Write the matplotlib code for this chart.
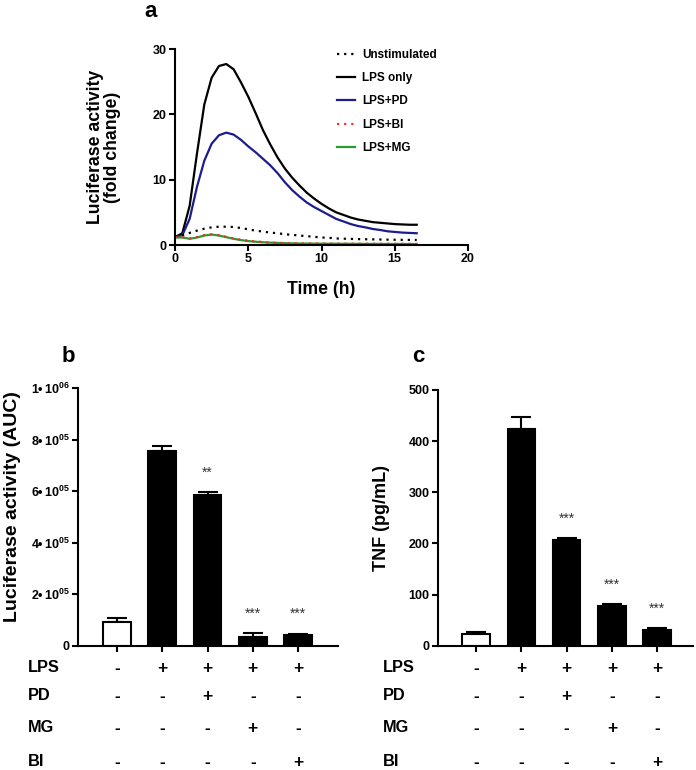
import numpy as np
import matplotlib
matplotlib.use("Agg")
import matplotlib.pyplot as plt
from matplotlib.transforms import blended_transform_factory

plt.rcParams["font.family"] = ["Liberation Sans", "DejaVu Sans"]
plt.rcParams["font.weight"] = "bold"
plt.rcParams["axes.linewidth"] = 1.5
plt.rcParams["mathtext.fontset"] = "custom"
plt.rcParams["mathtext.rm"] = "Liberation Sans"
plt.rcParams["mathtext.bf"] = "Liberation Sans:bold"

# ---- panel a: kinetics ----
time_h = [0, 0.5, 1, 1.5, 2, 2.5, 3, 3.5, 4, 4.5, 5, 5.5, 6, 6.5, 7, 7.5, 8, 8.5,
          9, 9.5, 10, 10.5, 11, 11.5, 12, 12.5, 13, 13.5, 14, 14.5, 15, 15.5, 16, 16.5]
lps_only = [1.2, 1.8, 6.0, 14.0, 21.5, 25.6, 27.4, 27.7, 26.9, 24.9, 22.7, 20.2, 17.6,
            15.4, 13.4, 11.7, 10.3, 9.1, 8.0, 7.1, 6.3, 5.6, 5.0, 4.6, 4.2, 3.9, 3.7,
            3.5, 3.4, 3.3, 3.2, 3.15, 3.1, 3.1]
lps_pd = [1.2, 1.5, 4.0, 8.9, 12.9, 15.5, 16.8, 17.2, 16.9, 16.1, 15.1, 14.2, 13.2,
          12.2, 11.0, 9.6, 8.4, 7.4, 6.5, 5.8, 5.2, 4.6, 4.0, 3.6, 3.2, 2.9, 2.7,
          2.45, 2.3, 2.1, 2.0, 1.9, 1.85, 1.8]
unstim = [1.3, 1.5, 1.85, 2.2, 2.5, 2.7, 2.8, 2.8, 2.75, 2.6, 2.4, 2.2, 2.05, 1.9, 1.8,
          1.65, 1.55, 1.45, 1.35, 1.25, 1.15, 1.1, 1.0, 0.97, 0.93, 0.9, 0.88, 0.86,
          0.84, 0.82, 0.8, 0.79, 0.78, 0.77]
lps_mg = [1.15, 1.15, 0.95, 1.15, 1.45, 1.6, 1.45, 1.2, 0.95, 0.75, 0.6, 0.5, 0.42,
          0.36, 0.32, 0.28, 0.25, 0.23, 0.22, 0.21, 0.2, 0.2, 0.19, 0.19, 0.18, 0.18,
          0.17, 0.17, 0.17, 0.16, 0.16, 0.16, 0.15, 0.15]
lps_bi = [1.2, 1.2, 1.0, 1.2, 1.5, 1.62, 1.5, 1.25, 1.0, 0.8, 0.65, 0.55, 0.45, 0.38,
          0.33, 0.3, 0.27, 0.25, 0.24, 0.23, 0.22, 0.21, 0.21, 0.2, 0.2, 0.19, 0.19,
          0.19, 0.18, 0.18, 0.18, 0.18, 0.18, 0.18]

# ---- panels b and c: bars ----
auc_mean = [93000, 758000, 585000, 35000, 41000]
auc_err = [13000, 18000, 11000, 13000, 5600]
auc_stars = ["", "", "**", "***", "***"]
tnf_mean = [22, 424, 207, 78, 30]
tnf_err = [4.7, 24, 3, 4, 4]
tnf_stars = ["", "", "***", "***", "***"]

row_names = ["LPS", "PD", "MG", "BI"]
row_signs = [["-", "+", "+", "+", "+"],
             ["-", "-", "+", "-", "-"],
             ["-", "-", "-", "+", "-"],
             ["-", "-", "-", "-", "+"]]

W, H = 696, 770
fig = plt.figure(figsize=(W / 100, H / 100), dpi=100)


def fx(px):
    return px / W


def fy(py):
    return 1 - py / H


# panel a
ax = fig.add_axes([fx(175), fy(245), fx(468) - fx(175), fy(49) - fy(245)])
ax.plot(time_h, lps_only, color="black", lw=1.6, label="LPS only")
ax.plot(time_h, lps_pd, color="#1c1c8e", lw=1.6, label="LPS+PD")
ax.plot(time_h, unstim, color="black", lw=1.6, ls=(0, (1, 2.2)), label="Unstimulated")
ax.plot(time_h, lps_mg, color="#2e9a2e", lw=1.6, label="LPS+MG")
ax.plot(time_h, lps_bi, color="#e8322d", lw=1.6, ls=(0, (1, 2.2)), label="LPS+BI")
ax.set_xlim(0, 20)
ax.set_ylim(0, 30)
ax.set_xticks([0, 5, 10, 15, 20])
ax.set_yticks([0, 10, 20, 30])
ax.spines[["top", "right"]].set_visible(False)
ax.tick_params(width=1.5, length=4, labelsize=9, pad=2)
h, l = ax.get_legend_handles_labels()
order = [2, 0, 1, 4, 3]
fig.legend([h[i] for i in order], [l[i] for i in order], loc="upper left",
           bbox_to_anchor=(fx(337), fy(49)), frameon=False, fontsize=8.5,
           borderaxespad=0, borderpad=0, handlelength=1.55, handletextpad=0.6,
           labelspacing=0.95)
fig.text(fx(104), fy(147), "Luciferase activity\n(fold change)", rotation=90,
         ha="center", va="center", fontsize=12.7, linespacing=1.05)
fig.text(fx(321), fy(290), "Time (h)", ha="center", va="center", fontsize=12.7)
fig.text(fx(151), fy(17), "a", ha="center", va="baseline", fontsize=16)


def bar_panel(left, right, top, means, errs, stars, ylim, yticks, yticklabels,
              xlim, label_x, ylabel, ylabel_size, ylabel_xy, letter_xy, letter):
    ax = fig.add_axes([fx(left), fy(645.7), fx(right) - fx(left), fy(top) - fy(645.7)])
    x = np.arange(len(means))
    colors = ["white"] + ["black"] * (len(means) - 1)
    ax.bar(x, means, width=0.61, color=colors, edgecolor="black", linewidth=1.5, zorder=2)
    ax.errorbar(x, means, yerr=[[0] * len(means), errs], fmt="none", ecolor="black",
                elinewidth=1.5, capsize=7, capthick=1.5, zorder=1)
    for xi, m, e, s in zip(x, means, errs, stars):
        if s:
            ax.annotate(s, (xi, m + e), xytext=(0, 14), textcoords="offset points",
                        ha="center", va="center", fontsize=10, fontweight="normal",
                        color="#333333")
    ax.set_xlim(*xlim)
    ax.set_ylim(*ylim)
    ax.set_xticks(x)
    ax.set_xticklabels([])
    ax.set_yticks(yticks)
    ax.set_yticklabels(yticklabels)
    ax.spines[["top", "right"]].set_visible(False)
    ax.tick_params(width=1.5, length=4, labelsize=9, pad=2)
    trans = blended_transform_factory(ax.transData, fig.transFigure)
    for name, signs, py in zip(row_names, row_signs, [668, 696, 728, 762]):
        fig.text(fx(label_x), fy(py), name, ha="left", va="center", fontsize=11.8)
        for xi, s in zip(x, signs):
            ax.text(xi, fy(py), s, transform=trans, ha="center", va="center",
                    fontsize=12.5, clip_on=False)
    fig.text(fx(ylabel_xy[0]), fy(ylabel_xy[1]), ylabel, rotation=90, ha="center",
             va="center", fontsize=ylabel_size)
    fig.text(fx(letter_xy[0]), fy(letter_xy[1]), letter, ha="center", va="baseline",
             fontsize=16)
    return ax


auc_labels = ["0"] + ["$\\mathbf{%d\u2022\\,10^{%s}}$" % (m, p)
                      for m, p in [(2, "05"), (4, "05"), (6, "05"), (8, "05"), (1, "06")]]
bar_panel(78, 338, 388.3, auc_mean, auc_err, auc_stars, (0, 1e6),
          [0, 2e5, 4e5, 6e5, 8e5, 1e6], auc_labels,
          (-0.86, 4.88), 28, "Luciferase activity (AUC)", 14, (12.5, 507), (68, 362), "b")
bar_panel(438, 693, 390, tnf_mean, tnf_err, tnf_stars, (0, 500),
          [0, 100, 200, 300, 400, 500], ["0", "100", "200", "300", "400", "500"],
          (-0.84, 4.79), 383, "TNF (pg/mL)", 13, (382, 518), (418, 362), "c")

fig.savefig("out.png", dpi=100)
